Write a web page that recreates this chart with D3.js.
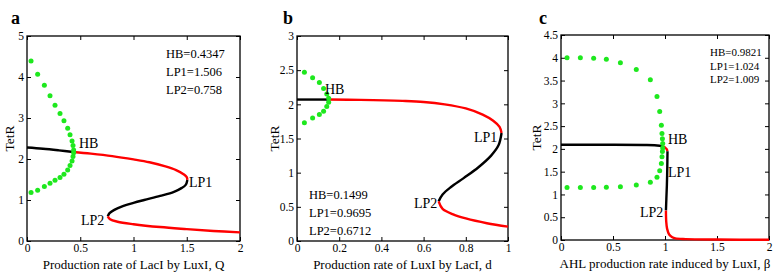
<!DOCTYPE html>
<html>
<head>
<meta charset="utf-8">
<script src="https://cdn.jsdelivr.net/npm/d3@7"></script>
<style>
  body { margin: 0; background: #fff; }
  text { font-family: "Liberation Serif", "Times New Roman", serif; }
</style>
</head>
<body>
<svg width="783" height="276"></svg>
<script>
// ---- data ----
// panel a : TetR vs Q
var aStableTop = [[0, 2.28], [0.15, 2.25], [0.3, 2.21], [0.4347, 2.17]];
var aUnstableTop = [[0.4347, 2.17], [0.6, 2.13], [0.8, 2.07], [1.0, 1.99], [1.15, 1.92], [1.3, 1.82], [1.4, 1.73], [1.47, 1.63], [1.5, 1.56], [1.506, 1.49]];
var aMiddle = [[1.506, 1.49], [1.49, 1.37], [1.45, 1.29], [1.38, 1.2], [1.25, 1.1], [1.1, 1.0], [1.0, 0.93], [0.9, 0.85], [0.82, 0.76], [0.775, 0.68], [0.758, 0.6]];
var aLower = [[0.758, 0.6], [0.78, 0.53], [0.85, 0.47], [1.0, 0.41], [1.25, 0.34], [1.5, 0.29], [1.75, 0.245], [2.0, 0.21]];
var aDots = [[0.038, 4.39], [0.100, 4.07], [0.163, 3.80], [0.216, 3.54], [0.263, 3.31], [0.31, 3.11], [0.347, 2.93], [0.382, 2.75], [0.404, 2.59], [0.423, 2.44], [0.432, 2.33], [0.438, 2.22],
             [0.038, 1.18], [0.100, 1.24], [0.163, 1.33], [0.216, 1.41], [0.263, 1.48], [0.31, 1.55], [0.347, 1.63], [0.382, 1.73], [0.404, 1.84], [0.423, 1.95], [0.432, 2.06], [0.438, 2.15]];
var aValues = ["HB=0.4347", "LP1=1.506", "LP2=0.758"];

// panel b : TetR vs d
var bStableTop = [[0, 2.07], [0.08, 2.07], [0.1499, 2.07]];
var bUnstableTop = [[0.1499, 2.07], [0.3, 2.065], [0.5, 2.05], [0.6, 2.035], [0.7, 2.0], [0.8, 1.94], [0.88, 1.85], [0.93, 1.76], [0.96, 1.67], [0.9695, 1.58]];
var bMiddle = [[0.9695, 1.58], [0.955, 1.4], [0.92, 1.25], [0.86, 1.08], [0.79, 0.92], [0.73, 0.79], [0.69, 0.68], [0.6712, 0.58]];
var bLower = [[0.6712, 0.58], [0.69, 0.47], [0.74, 0.39], [0.8, 0.33], [0.9, 0.26], [1.0, 0.21]];
var bDots = [[0.035, 2.47], [0.074, 2.39], [0.106, 2.32], [0.126, 2.23], [0.141, 2.15], [0.150, 2.09],
             [0.035, 1.73], [0.074, 1.80], [0.106, 1.85], [0.126, 1.90], [0.141, 1.97], [0.150, 2.03]];
var bValues = ["HB=0.1499", "LP1=0.9695", "LP2=0.6712"];

// panel c : TetR vs beta
var cStableTop = [[0, 2.09], [0.5, 2.09], [0.8, 2.085], [0.9, 2.08], [0.95, 2.07], [0.9821, 2.06]];
var cUnstableTop = [[0.9821, 2.06], [1.0, 2.03], [1.015, 2.0], [1.024, 1.95]];
var cMiddle = [[1.024, 1.95], [1.022, 1.6], [1.018, 1.2], [1.013, 0.9], [1.009, 0.65]];
var cLower = [[1.009, 0.65], [1.012, 0.4], [1.02, 0.25], [1.04, 0.12], [1.07, 0.06], [1.1, 0.035], [1.2, 0.02], [1.5, 0.01], [2.0, 0.005]];
var cDots = [[0.058, 4.00], [0.186, 4.00], [0.314, 3.99], [0.436, 3.97], [0.571, 3.89], [0.724, 3.74], [0.859, 3.52], [0.923, 3.15], [0.949, 2.82], [0.965, 2.52], [0.971, 2.34], [0.975, 2.22], [0.978, 2.12],
             [0.058, 1.15], [0.186, 1.15], [0.314, 1.15], [0.436, 1.16], [0.571, 1.17], [0.724, 1.21], [0.859, 1.27], [0.923, 1.38], [0.949, 1.52], [0.965, 1.68], [0.971, 1.83], [0.975, 1.94], [0.978, 2.02]];
var cValues = ["HB=0.9821", "LP1=1.024", "LP2=1.009"];

var svg = d3.select("svg");

function panel(o) {
  var x = d3.scaleLinear().domain(o.xDomain).range([o.left, o.right]);
  var y = d3.scaleLinear().domain(o.yDomain).range([o.bottom, o.top]);
  var g = svg.append("g");

  // ticks (inward, all four sides, matlab style)
  var fmt = d3.format("~g");
  g.append("g").attr("transform", "translate(0," + o.bottom + ")")
    .call(d3.axisBottom(x).tickValues(o.xTicks).tickSize(-4).tickPadding(3).tickFormat(fmt));
  g.append("g").attr("transform", "translate(0," + o.top + ")")
    .call(d3.axisTop(x).tickValues(o.xTicks).tickSize(-4).tickFormat(""));
  g.append("g").attr("transform", "translate(" + o.left + ",0)")
    .call(d3.axisLeft(y).tickValues(o.yTicks).tickSize(-4).tickPadding(3).tickFormat(fmt));
  g.append("g").attr("transform", "translate(" + o.right + ",0)")
    .call(d3.axisRight(y).tickValues(o.yTicks).tickSize(-4).tickFormat(""));
  g.selectAll(".domain").remove();
  g.selectAll(".tick line").attr("stroke", "#000");
  g.selectAll(".tick text").attr("font-size", 11.5).attr("fill", "#000")
    .style("font-family", '"Liberation Serif", serif');

  g.append("rect")
    .attr("x", o.left).attr("y", o.top)
    .attr("width", o.right - o.left).attr("height", o.bottom - o.top)
    .attr("fill", "none").attr("stroke", "#000").attr("stroke-width", 1.3);

  var line = d3.line().x(d => x(d[0])).y(d => y(d[1])).curve(d3.curveCatmullRom);
  [[o.stable, "#000"], [o.unstable, "#ff0000"], [o.middle, "#000"], [o.lower, "#ff0000"]].forEach(function (s) {
    g.append("path").datum(s[0]).attr("d", line)
      .attr("fill", "none").attr("stroke", s[1]).attr("stroke-width", 2.4);
  });

  g.selectAll("circle.dot").data(o.dots).enter().append("circle")
    .attr("cx", d => x(d[0])).attr("cy", d => y(d[1])).attr("r", 2.5)
    .attr("fill", "#1ee81e");

  // point labels
  o.marks.forEach(function (m) {
    g.append("text").attr("x", m[1]).attr("y", m[2]).attr("font-size", 14).text(m[0]);
  });
  // bifurcation values
  o.values.forEach(function (v, i) {
    g.append("text").attr("x", o.valX).attr("y", o.valY + i * o.valStep)
      .attr("font-size", o.valSize).text(v);
  });

  g.append("text").attr("x", (o.left + o.right) / 2).attr("y", o.bottom + 28)
    .attr("text-anchor", "middle").attr("font-size", 13).text(o.xLabel);
  g.append("text").attr("transform", "translate(" + o.yLabX + "," + ((o.top + o.bottom) / 2) + ") rotate(-90)")
    .attr("text-anchor", "middle").attr("font-size", 13.5).text("TetR");
  g.append("text").attr("x", o.letterX).attr("y", 24)
    .attr("font-size", 18).attr("font-weight", "bold").text(o.letter);
}

panel({
  left: 27, right: 240, top: 36, bottom: 241,
  xDomain: [0, 2], yDomain: [0, 5],
  xTicks: [0, 0.5, 1, 1.5, 2], yTicks: [0, 1, 2, 3, 4, 5],
  stable: aStableTop, unstable: aUnstableTop, middle: aMiddle, lower: aLower, dots: aDots,
  marks: [["HB", 79, 148], ["LP1", 189, 187], ["LP2", 81, 225]],
  values: aValues, valX: 166, valY: 58, valStep: 18, valSize: 12.5,
  xLabel: "Production rate of LacI by LuxI, Q", yLabX: 14, letter: "a", letterX: 11
});
panel({
  left: 297, right: 508, top: 36, bottom: 241,
  xDomain: [0, 1], yDomain: [0, 3],
  xTicks: [0, 0.2, 0.4, 0.6, 0.8, 1], yTicks: [0, 0.5, 1, 1.5, 2, 2.5, 3],
  stable: bStableTop, unstable: bUnstableTop, middle: bMiddle, lower: bLower, dots: bDots,
  marks: [["HB", 325, 94], ["LP1", 474, 142], ["LP2", 414, 208]],
  values: bValues, valX: 309, valY: 199, valStep: 18, valSize: 12.5,
  xLabel: "Production rate of LuxI by LacI, d", yLabX: 279, letter: "b", letterX: 283
});
panel({
  left: 561, right: 769, top: 35, bottom: 240,
  xDomain: [0, 2], yDomain: [0, 4.5],
  xTicks: [0, 0.5, 1, 1.5, 2], yTicks: [0, 0.5, 1, 1.5, 2, 2.5, 3, 3.5, 4, 4.5],
  stable: cStableTop, unstable: cUnstableTop, middle: cMiddle, lower: cLower, dots: cDots,
  marks: [["HB", 668, 144], ["LP1", 668, 177], ["LP2", 640, 217]],
  values: cValues, valX: 710, valY: 56, valStep: 13.5, valSize: 11,
  xLabel: "AHL production rate induced by LuxI, \u03b2", yLabX: 541, letter: "c", letterX: 539
});
</script>
</body>
</html>
